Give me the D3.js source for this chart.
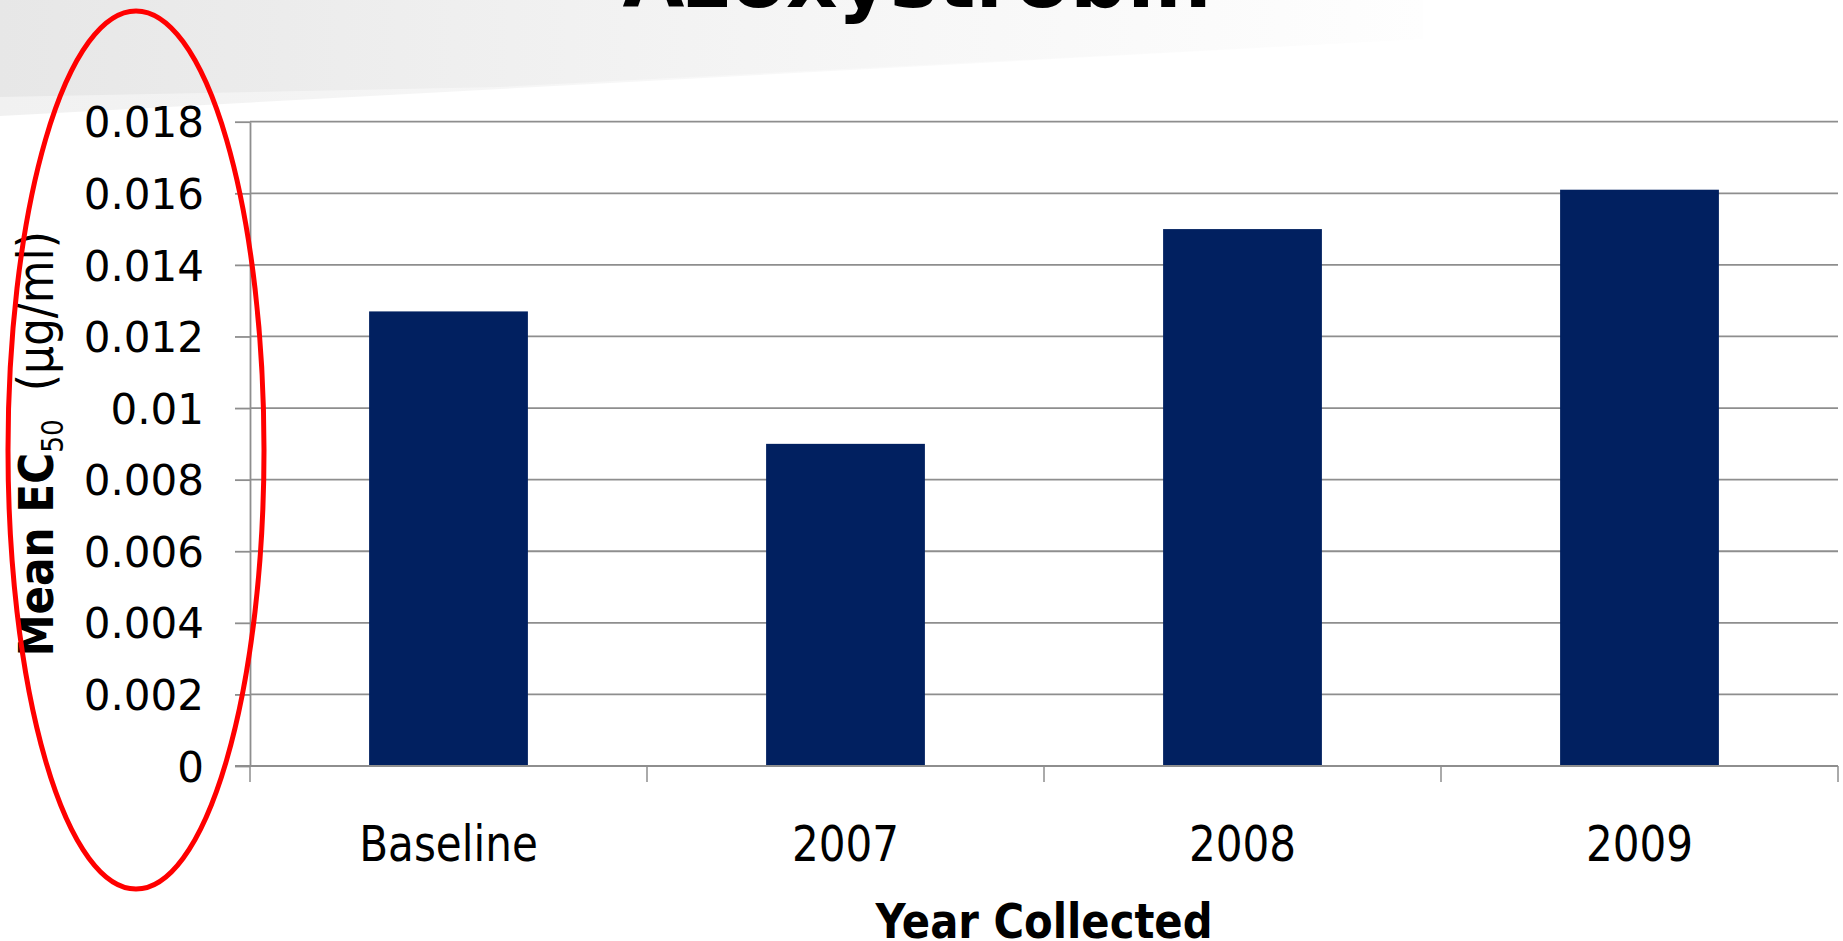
<!DOCTYPE html>
<html>
<head>
<meta charset="utf-8">
<script src="https://cdn.jsdelivr.net/npm/d3@7"></script>
<style>
  html, body { margin: 0; padding: 0; background: #ffffff; }
  svg { display: block; }
</style>
</head>
<body>
<svg id="chart" width="1843" height="941"></svg>
<script>
// ---- data ----
const categories = ["Baseline", "2007", "2008", "2009"];
const values = [0.0127, 0.0090, 0.0150, 0.0161];
const yTicks = [0, 0.002, 0.004, 0.006, 0.008, 0.01, 0.012, 0.014, 0.016, 0.018];
const yTickLabels = ["0", "0.002", "0.004", "0.006", "0.008", "0.01", "0.012", "0.014", "0.016", "0.018"];
const titleText = "Azoxystrobin";
const xTitle = "Year Collected";
const yTitleMain = "Mean EC";
const yTitleSub = "50";
const yTitleUnit = "  (µg/ml)";

const W = 1843, H = 941;
const plot = { left: 250, right: 1838, top: 121.7, bottom: 766 };
const FONT = "'DejaVu Sans', Verdana, sans-serif";

const svg = d3.select("#chart");

// ---- slide background ----
const defs = svg.append("defs");
const g1 = defs.append("linearGradient").attr("id", "bgA").attr("x1", 0).attr("x2", 1).attr("y1", 0).attr("y2", 0);
g1.append("stop").attr("offset", 0).attr("stop-color", "#f1f1f1");
g1.append("stop").attr("offset", 0.6).attr("stop-color", "#f9f9f9");
g1.append("stop").attr("offset", 1).attr("stop-color", "#fefefe");
const g2 = defs.append("linearGradient").attr("id", "bgB").attr("x1", 0).attr("x2", 1).attr("y1", 0).attr("y2", 0);
g2.append("stop").attr("offset", 0).attr("stop-color", "#e7e7e7");
g2.append("stop").attr("offset", 0.4).attr("stop-color", "#f1f1f1");
g2.append("stop").attr("offset", 0.65).attr("stop-color", "#f7f7f7");
g2.append("stop").attr("offset", 0.85).attr("stop-color", "#fbfbfb");
g2.append("stop").attr("offset", 1).attr("stop-color", "#fefefe");

svg.append("polygon").attr("points", "0,0 1423,0 1423,39 0,116").attr("fill", "url(#bgA)");
svg.append("polygon").attr("points", "0,0 1423,0 1423,39 500,87 0,97").attr("fill", "url(#bgB)");

// ---- title (partly cut off at top) ----
svg.append("text")
  .attr("x", 917).attr("y", 7)
  .attr("text-anchor", "middle")
  .attr("font-family", FONT).attr("font-weight", "bold").attr("font-size", 80)
  .attr("fill", "#000")
  .text(titleText);

// ---- scales ----
const x = d3.scaleBand().domain(categories).range([plot.left, plot.right])
  .paddingInner(0.6).paddingOuter(0.3);
const y = d3.scaleLinear().domain([0, 0.018]).range([plot.bottom, plot.top]);

// ---- gridlines ----
svg.append("g").selectAll("line").data(yTicks.filter(d => d > 0)).join("line")
  .attr("x1", plot.left).attr("x2", plot.right)
  .attr("y1", d => y(d)).attr("y2", d => y(d))
  .attr("stroke", "#8e8e8e").attr("stroke-width", 1.8);

// ---- bars ----
svg.append("g").selectAll("rect").data(values).join("rect")
  .attr("x", (d, i) => x(categories[i]))
  .attr("width", x.bandwidth())
  .attr("y", d => y(d))
  .attr("height", d => y(0) - y(d))
  .attr("fill", "#012060");

// ---- y axis ----
const yAxis = d3.axisLeft(y).tickValues(yTicks)
  .tickFormat((d, i) => yTickLabels[i])
  .tickSize(15).tickSizeOuter(0).tickPadding(31);
const gy = svg.append("g").attr("transform", `translate(${plot.left},0)`).call(yAxis);
gy.select(".domain").attr("stroke", "#8e8e8e").attr("stroke-width", 1.8);
gy.selectAll(".tick line").attr("stroke", "#8e8e8e").attr("stroke-width", 1.8);
gy.selectAll(".tick text")
  .attr("font-family", FONT).attr("font-size", 42).attr("fill", "#000")
  .attr("dy", "0.36em");

// ---- x axis ----
const xAxis = d3.axisBottom(x).tickSize(0).tickSizeOuter(0);
const gx = svg.append("g").attr("transform", `translate(0,${plot.bottom})`).call(xAxis);
gx.select(".domain").remove();
gx.selectAll(".tick text")
  .attr("font-family", FONT).attr("font-size", 49).attr("fill", "#000")
  .attr("y", 95).attr("dy", null)
  .attr("transform", "scale(0.86,1)");

// axis baseline and category boundary ticks
const boundaries = d3.range(categories.length + 1).map(i => plot.left + i * x.step());
svg.append("line")
  .attr("x1", plot.left - 15).attr("x2", plot.right)
  .attr("y1", y(0)).attr("y2", y(0))
  .attr("stroke", "#8e8e8e").attr("stroke-width", 1.8);
svg.append("g").selectAll("line").data(boundaries).join("line")
  .attr("x1", d => d).attr("x2", d => d)
  .attr("y1", y(0)).attr("y2", y(0) + 16)
  .attr("stroke", "#8e8e8e").attr("stroke-width", 1.5);

// ---- x axis title ----
svg.append("text")
  .attr("transform", `translate(${(plot.left + plot.right) / 2},938) scale(0.87,1)`)
  .attr("text-anchor", "middle")
  .attr("font-family", FONT).attr("font-weight", "bold").attr("font-size", 48)
  .attr("fill", "#000")
  .text(xTitle);

// ---- y axis title ----
const yt = svg.append("text")
  .attr("transform", `translate(53,${(plot.top + plot.bottom) / 2}) rotate(-90) scale(0.88,1)`)
  .attr("text-anchor", "middle")
  .attr("font-family", FONT).attr("fill", "#000")
  .style("white-space", "pre")
  .attr("xml:space", "preserve");
yt.append("tspan").attr("font-weight", "bold").attr("font-size", 48).text(yTitleMain);
yt.append("tspan").attr("font-size", 30).attr("dy", 10).text(yTitleSub);
yt.append("tspan").attr("font-size", 50).attr("dy", -10).text(yTitleUnit);

// ---- red annotation ellipse ----
svg.append("ellipse")
  .attr("cx", 136).attr("cy", 450).attr("rx", 128).attr("ry", 439)
  .attr("fill", "none").attr("stroke", "#ff0000").attr("stroke-width", 5);
</script>
</body>
</html>
